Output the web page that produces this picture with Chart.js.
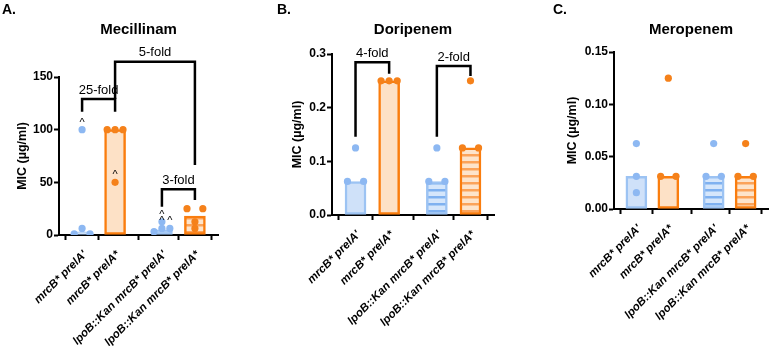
<!DOCTYPE html>
<html><head><meta charset="utf-8">
<script src="https://cdn.jsdelivr.net/npm/chart.js@4/dist/chart.umd.min.js"></script>
<style>
html,body{margin:0;padding:0;background:#fff;width:772px;height:346px;overflow:hidden}
canvas{position:absolute;left:0;top:0}
</style></head><body>
<canvas id="cA" width="772" height="346"></canvas>
<canvas id="cB" width="772" height="346"></canvas>
<canvas id="cC" width="772" height="346"></canvas>
<script>
// ---------- data ----------
const categories = ["mrcB* prelA'", "mrcB* prelA*", "lpoB::Kan mrcB* prelA'", "lpoB::Kan mrcB* prelA*"];

// A. Mecillinam
const mecTicks = [0, 50, 100, 150];
const mecBars = [3, 100, 5, 18];
const mecPoints = [[100, 6.25, 1, 1], [100, 100, 100, 50], [12.5, 6.25, 6.25, 3.125], [25, 25, 12.5, 6.25]];
const mecCarets = [[1, 0, 0, 0], [0, 0, 0, 1], [1, 1, 1, 0], [0, 0, 0, 0]];
const mecFolds = [
  {from: 0, to: 1, left: 117, top: 129, right: 117, label: "25-fold"},
  {from: 1, to: 3, left: 129, top: 164.5, right: 66.5, label: "5-fold"},
  {from: 2, to: 3, left: 26.9, top: 43.4, right: 33.2, label: "3-fold"}
];

// B. Doripenem
const doriTicks = [0, 0.1, 0.2, 0.3];
const doriBars = [0.0625, 0.25, 0.0625, 0.125];
const doriPoints = [[0.125, 0.0625, 0.0625], [0.25, 0.25, 0.25], [0.125, 0.0625, 0.0625], [0.25, 0.125, 0.125]];
const doriFolds = [
  {from: 0, to: 1, left: 0.146, top: 0.2845, right: 0.263, label: "4-fold"},
  {from: 2, to: 3, left: 0.146, top: 0.2776, right: 0.259, label: "2-fold"}
];

// C. Meropenem
const meroTicks = [0, 0.05, 0.10, 0.15];
const meroBars = [0.03125, 0.03125, 0.03125, 0.03125];
const meroPoints = [[0.0625, 0.03125, 0.015625], [0.125, 0.03125, 0.03125], [0.0625, 0.03125, 0.03125], [0.0625, 0.03125, 0.03125]];

// ---------- layout (not data) ----------
const xPos = [1, 2, 3.42, 4.42];
const JIT = 0.24;
const mecJitter = [[0, 0, -1, 1], [-1, 0, 1, 0], [0, 0, 1, -1], [-1, 1, 0, 0]];
const doriJitter = [[0, -1, 1], [-1, 0, 1], [0, -1, 1], [0, -1, 1]];
const meroJitter = [[0, 0, 0], [0, -1, 1], [0, -1, 1], [0, -1, 1]];

const FONT = '"Liberation Sans", Arial, Helvetica, sans-serif';
const BLUE_PT = '#8DB8F2', BLUE_BORDER = '#9CC3F3', BLUE_FILL = '#CFE1F9';
const OR_PT = '#F5811A', OR_BORDER = '#FA7D0E', OR_FILL = '#FDE1C6';

function stripe(light, dark) {
  const c = document.createElement('canvas');
  c.width = 8; c.height = 7;
  const g = c.getContext('2d');
  g.fillStyle = light; g.fillRect(0, 0, 8, 7);
  g.fillStyle = dark; g.fillRect(0, 0, 8, 2.5);
  return g.createPattern(c, 'repeat');
}

const annot = {
  id: 'annot',
  afterDraw(chart, args, o) {
    const {ctx, chartArea: ca} = chart;
    const xs = chart.scales.x, ys = chart.scales.y;
    ctx.save();
    ctx.fillStyle = '#000';
    ctx.textBaseline = 'alphabetic';
    ctx.font = 'bold 14px ' + FONT;
    ctx.textAlign = 'left';
    ctx.fillText(o.letter, o.letterX, 13.5);
    ctx.font = 'bold 15px ' + FONT;
    ctx.textAlign = 'center';
    ctx.fillText(o.title, (ca.left + ca.right) / 2, 33.5);
    ctx.save();
    ctx.translate(o.yTitleX, (ca.top + ca.bottom) / 2);
    ctx.rotate(-Math.PI / 2);
    ctx.font = 'bold 12.5px ' + FONT;
    ctx.textBaseline = 'middle';
    ctx.fillText(o.yTitle, 0, 0);
    ctx.restore();
    ctx.lineWidth = 2.5; ctx.strokeStyle = '#000'; ctx.lineJoin = 'miter'; ctx.lineCap = 'butt';
    (o.folds || []).forEach(f => {
      const xl = xs.getPixelForValue(xPos[f.from]), xr = xs.getPixelForValue(xPos[f.to]);
      const yt = ys.getPixelForValue(f.top);
      ctx.beginPath();
      ctx.moveTo(xl, ys.getPixelForValue(f.left));
      ctx.lineTo(xl, yt); ctx.lineTo(xr, yt);
      ctx.lineTo(xr, ys.getPixelForValue(f.right));
      ctx.stroke();
      ctx.font = '13px ' + FONT; ctx.textAlign = 'center';
      ctx.fillText(f.label, (xl + xr) / 2, yt - 5.5);
    });
    chart.data.datasets.forEach((ds, di) => {
      if (ds.type !== 'scatter') return;
      const meta = chart.getDatasetMeta(di);
      ds.data.forEach((p, i) => {
        if (p.caret) {
          const el = meta.data[i];
          ctx.font = '11px ' + FONT; ctx.textAlign = 'center';
          ctx.fillText('^', el.x, el.y - 4);
        }
      });
    });
    ctx.restore();
  }
};

function makeChart(id, cfg) {
  const ctx = document.getElementById(id).getContext('2d');
  const fills = [BLUE_FILL, OR_FILL, stripe('#D5E6FB', '#7FB1F0'), stripe('#FDE4CB', '#FBA35A')];
  const borders = [BLUE_BORDER, OR_BORDER, BLUE_BORDER, OR_BORDER];
  const ptsFor = (idxs) => {
    const out = [];
    idxs.forEach(i => cfg.points[i].forEach((v, k) => out.push({
      x: xPos[i] + cfg.jitter[i][k] * JIT, y: v, caret: cfg.carets ? !!cfg.carets[i][k] : false
    })));
    return out;
  };
  const P = cfg.pad;
  const xH = 346 - cfg.bottom;
  return new Chart(ctx, {
    type: 'bar',
    data: {
      datasets: [
        {type: 'bar', data: xPos.map((x, i) => ({x, y: cfg.bars[i]})), backgroundColor: fills,
         borderColor: borders, borderWidth: 2.5, borderSkipped: false, barThickness: 21, order: 2},
        {type: 'scatter', data: ptsFor([0, 2]), pointRadius: 3.6, pointBackgroundColor: BLUE_PT,
         pointBorderWidth: 0, borderWidth: 0, order: 1},
        {type: 'scatter', data: ptsFor([1, 3]), pointRadius: 3.6, pointBackgroundColor: OR_PT,
         pointBorderWidth: 0, borderWidth: 0, order: 1}
      ]
    },
    options: {
      responsive: false, animation: false, events: [], devicePixelRatio: 1,
      layout: {padding: {left: P.left, right: P.right, top: P.top, bottom: 0}},
      plugins: {legend: {display: false}, tooltip: {enabled: false},
        annot: {letter: cfg.letter, letterX: cfg.letterX, title: cfg.title, yTitle: 'MIC (µg/ml)',
                yTitleX: cfg.yTitleX, folds: cfg.folds}},
      scales: {
        x: {type: 'linear', bounds: 'data', min: 0.3, max: 5.12, offset: false,
            afterBuildTicks: s => { s.ticks = xPos.map(v => ({value: v})); },
            afterFit: s => { s.height = xH; },
            ticks: {autoSkip: false, minRotation: 45, maxRotation: 45, padding: 8, labelOffset: 3, color: '#000',
                    font: {family: FONT, size: 11.5, weight: 'bold', style: 'italic'},
                    callback: (v, i) => categories[i]},
            grid: {display: true, drawOnChartArea: false, drawTicks: true, tickLength: 5, tickWidth: 2, tickColor: '#000'},
            border: {display: true, color: '#000', width: 2}},
        y: {type: 'linear', bounds: 'data', min: 0, max: cfg.ticks[cfg.ticks.length - 1],
            afterBuildTicks: s => { s.ticks = cfg.ticks.map(v => ({value: v})); },
            afterFit: s => { s.width = 45; },
            ticks: {padding: 1, color: '#000', font: {family: FONT, size: 12, weight: 'bold'},
                    callback: v => v.toFixed(cfg.dec)},
            grid: {display: true, drawOnChartArea: false, drawTicks: true, tickLength: 5, tickWidth: 2, tickColor: '#000'},
            border: {display: true, color: '#000', width: 2}}
      }
    },
    plugins: [annot]
  });
}

makeChart('cA', {letter: 'A.', letterX: 2, title: 'Mecillinam', yTitleX: 23, ticks: mecTicks, dec: 0,
  bars: mecBars, points: mecPoints, jitter: mecJitter, carets: mecCarets, folds: mecFolds,
  bottom: 235, pad: {left: 14, right: 554, top: 77}});
makeChart('cB', {letter: 'B.', letterX: 277, title: 'Doripenem', yTitleX: 298, ticks: doriTicks, dec: 1,
  bars: doriBars, points: doriPoints, jitter: doriJitter, folds: doriFolds,
  bottom: 215, pad: {left: 287, right: 278, top: 54}});
makeChart('cC', {letter: 'C.', letterX: 553, title: 'Meropenem', yTitleX: 573, ticks: meroTicks, dec: 2,
  bars: meroBars, points: meroPoints, jitter: meroJitter, folds: [],
  bottom: 209, pad: {left: 569, right: 0, top: 52}});
</script>
</body></html>
